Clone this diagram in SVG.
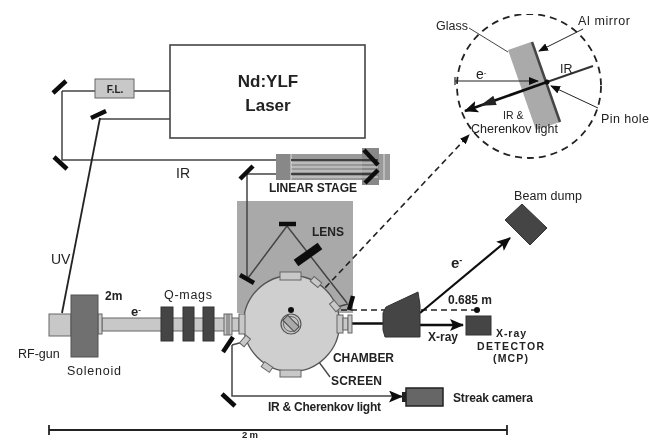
<svg xmlns="http://www.w3.org/2000/svg" width="650" height="441" viewBox="0 0 650 441">
<defs>
<style>
text{font-family:"Liberation Sans",Arial,sans-serif;fill:#222;font-size:12.500px}
.b{font-weight:bold;font-size:12px}
.s{font-size:10.500px}
.l{fill:none;stroke:#444;stroke-width:1.5}
.t{fill:none;stroke:#222;stroke-width:1.8}
.m{fill:none;stroke:#111;stroke-width:4.5}
.d{fill:none;stroke:#222;stroke-width:1.6;stroke-dasharray:6 4}
.g{fill:#c8c8c8;stroke:#666;stroke-width:1}
.k{fill:#444;stroke:#333;stroke-width:1}
</style>
<marker id="ah" markerUnits="userSpaceOnUse" markerWidth="14" markerHeight="12" refX="13" refY="6" orient="auto"><path d="M0 0L14 6L0 12L3 6Z" fill="#111"/></marker>
<marker id="as" markerUnits="userSpaceOnUse" markerWidth="10" markerHeight="8" refX="9" refY="4" orient="auto"><path d="M0 0L10 4L0 8Z" fill="#111"/></marker>
<filter id="soft" x="0" y="0" width="100%" height="100%"><feGaussianBlur stdDeviation="0.45"/></filter>
</defs>
<rect width="650" height="441" fill="#fff"/>
<g filter="url(#soft)">
<g id="shielding"><rect x="237" y="201" width="116" height="112" fill="#a9a9a9"/></g>

<g id="connectors">
<path class="l" d="M62 91H95M134 91H170M62 91V160H378M100 119H170"/>
<path class="t" d="M100 118L62 313"/>
<path class="l" d="M247 174H370M247 174V279"/>
<path class="l" d="M248 278L287 226L347 303M337 307L348 304"/>
<path class="l" d="M232 345V396H392M232 345L243 342"/>
<path d="M392 396.500H402" class="t" marker-end="url(#ah)"/>
<path class="d" d="M291 310H477"/>
<path class="d" d="M291 324L469 135" marker-end="url(#as)"/>
<path d="M352 323.500H385" stroke="#111" stroke-width="2.500" fill="none"/>
<path d="M420 325H463" stroke="#111" stroke-width="2.500" fill="none" marker-end="url(#ah)"/>
<path d="M420 313L510 238" stroke="#111" stroke-width="2.200" fill="none" marker-end="url(#ah)"/>
<path d="M125 324H153" stroke="#111" stroke-width="2.500" fill="none" marker-end="url(#ah)"/>
<path d="M291 324L330 377" stroke="#444" stroke-width="1.300"/>
<path class="t" d="M49 430H507M49 425V435M507 425V435"/>
</g>

<g id="laser"><rect x="170" y="45" width="195" height="93" fill="#fff" stroke="#444" stroke-width="1.600"/>
<text class="b" x="268" y="87" text-anchor="middle" style="font-size:17px">Nd:YLF</text>
<text class="b" x="268" y="111" text-anchor="middle" style="font-size:17px">Laser</text></g>
<g id="fl"><rect x="95" y="79" width="39" height="19" class="g"/><text class="b" x="115" y="93" text-anchor="middle" style="font-size:10px">F.L.</text></g>

<g id="mirrors">
<path class="m" d="M53 93L66 81M54 157L67 169M91 118L106 111M240 179L253 166M279 224H296M240 275L254 283M349 310L353 296M223 352L233 337M222 394L235 406"/>
</g>

<g id="linear-stage">
<rect x="276" y="154" width="114" height="26" fill="#999"/>
<rect x="276" y="154" width="15" height="26" fill="#888"/>
<rect x="362" y="148" width="17" height="37" fill="#888"/>
<path d="M291 154V180M291 163H378M291 167H378M291 171H378M291 177H378M384 154V180" stroke="#ddd" stroke-width="1" fill="none"/>
<path d="M291 160H378M291 174H372" stroke="#222" stroke-width="1.500"/>
<path class="m" d="M364 150L378 165M365 183L378 170"/>
<text class="b" x="269" y="192" textLength="88">LINEAR STAGE</text>
</g>

<g id="lens"><path d="M296 263L320 246" stroke="#111" stroke-width="8" fill="none"/><text class="b" x="312" y="236">LENS</text></g>

<g id="beamline">
<rect x="49" y="314" width="22" height="22" class="g"/>
<rect x="102" y="318" width="137" height="13" class="g"/>
<rect x="98" y="314" width="4" height="20" class="g"/>
<rect x="71" y="295" width="27" height="62" fill="#6f6f6f" stroke="#555"/>
<rect x="161" y="307" width="12" height="34" class="k"/>
<rect x="183" y="307" width="11" height="34" class="k"/>
<rect x="203" y="307" width="11" height="34" class="k"/>
<rect x="224" y="314" width="8" height="21" class="g"/>
<path d="M227 314V335M229 314V335" stroke="#666"/>
</g>

<g id="chamber">
<circle cx="291.500" cy="323.500" r="48" fill="#cfcfcf" stroke="#555" stroke-width="1.300"/>
<rect x="280" y="272" width="21" height="8" class="g"/>
<rect x="280" y="370" width="21" height="7" class="g"/>
<rect x="239" y="314" width="6" height="20" class="g"/>
<rect x="337" y="315" width="6" height="18" class="g"/>
<rect x="343" y="318" width="5" height="12" class="g"/>
<rect x="348" y="315" width="4" height="18" class="g"/>
<rect x="311" y="279" width="10" height="6" class="g" transform="rotate(40 316 282)"/>
<rect x="330" y="303" width="10" height="6" class="g" transform="rotate(50 335 306)"/>
<rect x="240" y="338" width="10" height="6" class="g" transform="rotate(-50 245 341)"/>
<rect x="262" y="364" width="10" height="6" class="g" transform="rotate(35 267 367)"/>
<circle cx="291" cy="324" r="10" fill="#c4c4c4" stroke="#555" stroke-width="1.200"/>
<circle cx="291" cy="324" r="7.500" fill="none" stroke="#666" stroke-width="1"/>
<rect x="283" y="320" width="16" height="7" fill="#aaa" stroke="#444" transform="rotate(45 291 323.500)"/>
<circle cx="291" cy="310" r="3" fill="#111"/>
<circle cx="477" cy="310" r="3" fill="#111"/>
</g>

<g id="x-ray-parts">
<path class="k" d="M383 313L386 307L418 292L420 305V337H385L383 330Z"/>
<rect x="466" y="316" width="25" height="19" class="k"/>
<path class="k" d="M505 220L522 204L547 228L530 245Z"/>
<rect x="402" y="392" width="4" height="10" fill="#222"/>
<rect x="406" y="388" width="37" height="18" fill="#666" stroke="#222" stroke-width="1.500"/>
</g>

<g id="inset">
<circle cx="529" cy="86" r="72" fill="#fff" stroke="#222" stroke-width="1.800" stroke-dasharray="7 5"/>
<path d="M508 50L531 42L560 122L536 130Z" fill="#aaa"/>
<path d="M532 42L560 122" stroke="#444" stroke-width="2.500"/>
<path d="M469 28L508 52" stroke="#444" stroke-width="1"/>
<path d="M583 29L539 51" stroke="#222" stroke-width="1" marker-end="url(#as)"/>
<path d="M598 108L551 86" stroke="#222" stroke-width="1" marker-end="url(#as)"/>
<path d="M455 81H538" stroke="#222" stroke-width="1.200" marker-end="url(#as)"/>
<path d="M455 77V85" stroke="#222" stroke-width="1.200"/>
<path d="M593 66L547 82" stroke="#333" stroke-width="2"/>
<path d="M547 82L465 111" stroke="#111" stroke-width="2.800" marker-end="url(#ah)"/>
<path d="M480 105.700L493.300 95.700L496.700 105.100Z" fill="#222"/>
<circle cx="547" cy="82" r="2.500" fill="#111"/>
<text x="436" y="30">Glass</text>
<text x="578" y="25" textLength="52">Al mirror</text>
<text x="560" y="73">IR</text>
<text x="476" y="79" style="font-size:14px">e<tspan dy="-4" style="font-size:8px">-</tspan></text>
<text x="503" y="119" class="s">IR &amp;</text>
<text x="471" y="133" textLength="87">Cherenkov light</text>
<text x="601" y="123" textLength="48">Pin hole</text>
</g>

<g id="labels">
<text x="176" y="178" style="font-size:14px">IR</text>
<text x="51" y="264" style="font-size:14px">UV</text>
<text x="18" y="358">RF-gun</text>
<text x="67" y="375" textLength="54">Solenoid</text>
<text class="b" x="105" y="300">2m</text>
<text class="b" x="131" y="316" style="font-size:13px">e<tspan dy="-4" style="font-size:8px">-</tspan></text>
<text x="164" y="299" textLength="48">Q-mags</text>
<text class="b" x="333" y="362" textLength="61">CHAMBER</text>
<text class="b" x="331" y="385" textLength="51">SCREEN</text>
<text class="b" x="268" y="411" textLength="113">IR &amp; Cherenkov light</text>
<text class="b" x="453" y="402" textLength="80">Streak camera</text>
<text class="b" x="428" y="341" textLength="30">X-ray</text>
<text class="b s" x="496" y="337" textLength="30">X-ray</text>
<text class="b s" x="477" y="349.500" textLength="67">DETECTOR</text>
<text class="b s" x="493" y="362" textLength="35">(MCP)</text>
<text class="b" x="448" y="304" textLength="44">0.685 m</text>
<text x="514" y="200" textLength="68">Beam dump</text>
<text class="b" x="451" y="268" style="font-size:15px">e<tspan dy="-5" style="font-size:9px">-</tspan></text>
<text class="b" x="242" y="438" style="font-size:9.500px" textLength="16">2m</text>
</g>
</g>
</svg>
